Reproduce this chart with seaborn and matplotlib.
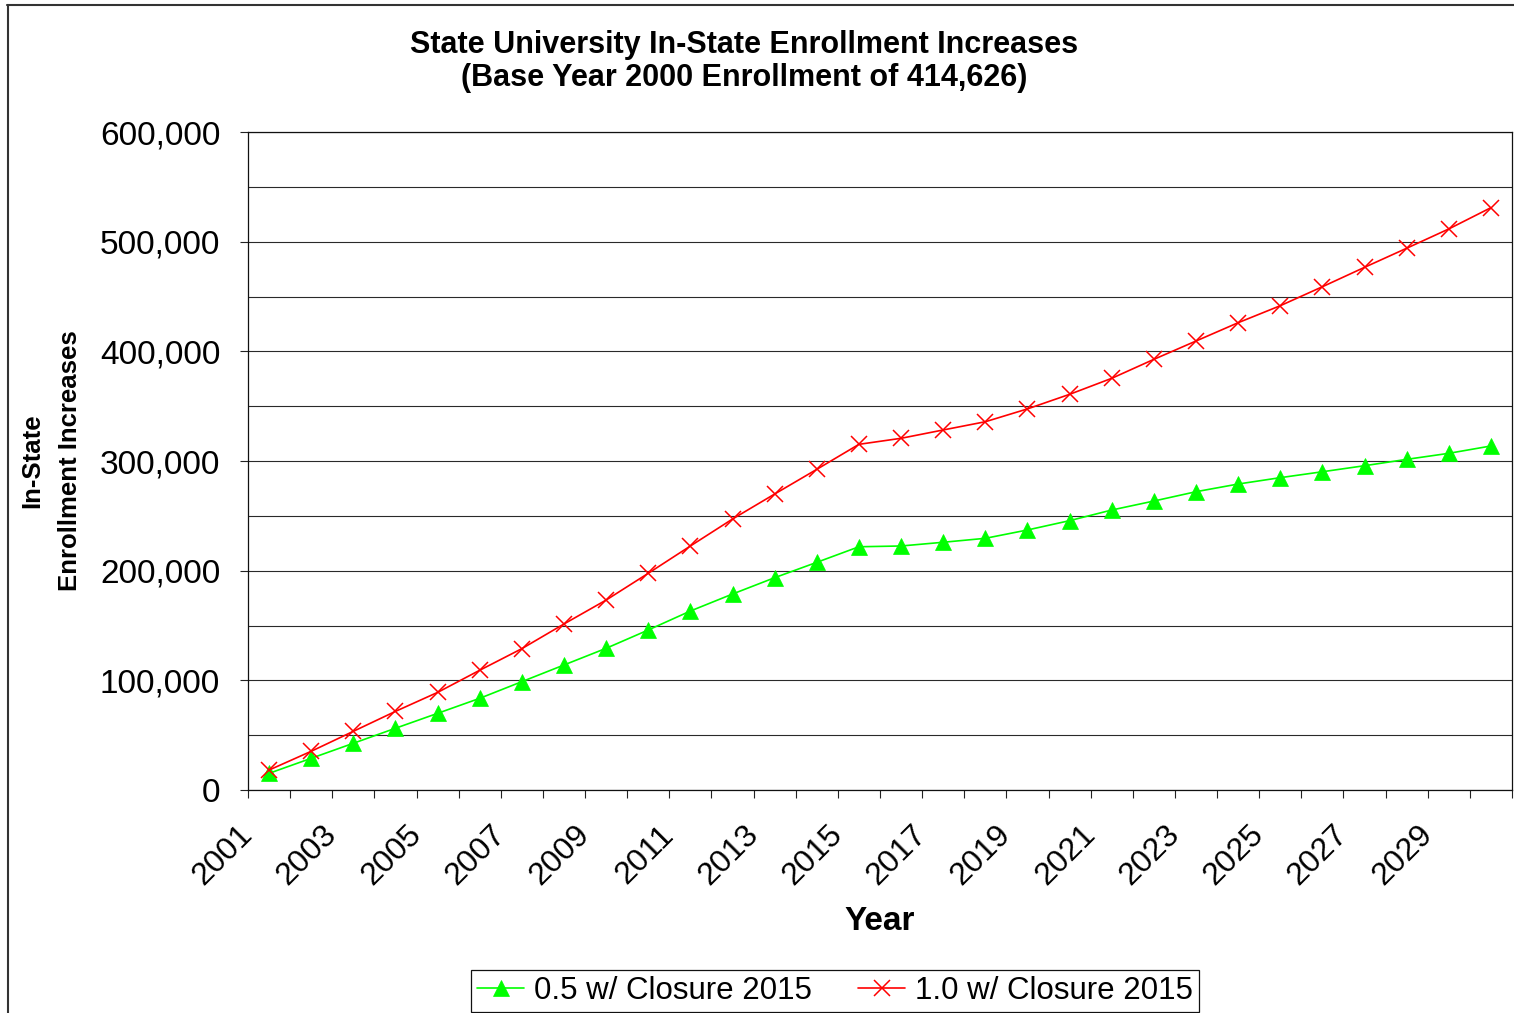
import matplotlib
matplotlib.use("Agg")
import matplotlib.pyplot as plt
from matplotlib.lines import Line2D
from matplotlib.transforms import ScaledTranslation
import numpy as np
import pandas as pd
import seaborn as sns

# ---- data -------------------------------------------------------------
years = [2001, 2002, 2003, 2004, 2005, 2006, 2007, 2008, 2009, 2010,
         2011, 2012, 2013, 2014, 2015, 2016, 2017, 2018, 2019, 2020,
         2021, 2022, 2023, 2024, 2025, 2026, 2027, 2028, 2029, 2030]

half_closure = [15200, 28900, 42600, 56300, 69900, 83600, 98800, 114000, 129200, 145900,
                163200, 178700, 193600, 207600, 221800, 222500, 225900, 229500, 237100, 245600,
                255300, 263500, 272000, 279000, 284800, 290200, 295700, 301500, 307000, 313700]

full_closure = [18200, 35300, 53500, 71700, 89000, 109200, 128900, 151400, 173200, 197600,
                222500, 247100, 269900, 292400, 315200, 320700, 328300, 335800, 347500, 360800,
                375400, 392700, 409400, 426100, 441600, 458900, 476600, 494000, 511600, 531000]

series_names = ["0.5 w/ Closure 2015", "1.0 w/ Closure 2015"]
series_values = [half_closure, full_closure]
series_colors = ["#00FF00", "#FF0000"]
series_markers = ["^", "x"]

title_lines = ["State University In-State Enrollment Increases",
               "(Base Year 2000 Enrollment of 414,626)"]
ylabel_lines = ["In-State", "Enrollment Increases"]
xlabel = "Year"
labeled_years = [2001, 2003, 2005, 2007, 2009, 2011, 2013, 2015,
                 2017, 2019, 2021, 2023, 2025, 2027, 2029]

# ---- style ------------------------------------------------------------
sns.set_style("white")
plt.rcParams["font.family"] = ["Liberation Sans", "DejaVu Sans"]
plt.rcParams.update({"text.color": "black", "axes.labelcolor": "black",
                     "xtick.color": "black", "ytick.color": "black"})

W, H, DPI = 1514, 1013, 100
fig = plt.figure(figsize=(W / DPI, H / DPI), dpi=DPI)
ax = fig.add_axes([248 / W, 1 - 790 / H, (1512 - 248) / W, (790 - 132) / H])

# one lineplot per scenario (filled triangles and line-art crosses)
handles = []
for name, vals, color, marker in zip(series_names, series_values, series_colors, series_markers):
    frame = pd.DataFrame({"Year": years, "Enrollment": vals})
    mew = 0.5 if marker == "^" else 1.1
    sns.lineplot(data=frame, x="Year", y="Enrollment", ax=ax, color=color,
                 marker=marker, markersize=11, markerfacecolor=color,
                 markeredgecolor=color, markeredgewidth=mew, linewidth=1.2,
                 legend=False)
    handles.append(Line2D([], [], color=color, marker=marker, markersize=11,
                          markerfacecolor=color, markeredgecolor=color,
                          markeredgewidth=mew, linewidth=1.2))

# ---- axes -------------------------------------------------------------
ax.set_xlim(years[0] - 0.5, years[-1] + 0.5)
ax.set_ylim(0, 600000)

ax.set_yticks(np.arange(0, 600001, 100000))
ax.set_yticks(np.arange(50000, 600000, 100000), minor=True)
ax.yaxis.set_major_formatter(matplotlib.ticker.FuncFormatter(lambda v, p: f"{int(v):,}"))
ax.grid(True, axis="y", which="both", color="#2a2a2a", linewidth=0.8)
ax.grid(False, axis="x")
ax.tick_params(axis="y", which="major", direction="out", length=6, width=0.8,
               color="#222222", labelcolor="black", labelsize=24, pad=14, left=True)
ax.tick_params(axis="y", which="minor", length=0)

# category boundaries carry the tick marks, category centres carry the labels
ax.set_xticks(np.arange(years[0] - 0.5, years[-1] + 1, 1.0))
ax.set_xticklabels([])
ax.set_xticks(labeled_years, minor=True)
ax.set_xticklabels([str(y) for y in labeled_years], minor=True)
ax.tick_params(axis="x", which="major", direction="out", length=6, width=0.8,
               color="#222222", bottom=True)
ax.tick_params(axis="x", which="minor", length=0, labelsize=23, pad=29,
               labelcolor="black")
offset = ScaledTranslation(-21 / DPI, 0, fig.dpi_scale_trans)
for lbl in ax.get_xticklabels(minor=True):
    lbl.set_rotation(45)
    lbl.set_ha("right")
    lbl.set_va("center")
    lbl.set_rotation_mode("anchor")
    lbl.set_transform(lbl.get_transform() + offset)

for side in ["left", "bottom", "right", "top"]:
    ax.spines[side].set_visible(True)
    ax.spines[side].set_color("#111111")
    ax.spines[side].set_linewidth(0.9)

ax.set_xlabel(xlabel, fontsize=24, fontweight="bold", color="black")
ax.xaxis.set_label_coords(0.5, (790 - 922) / (790 - 132))
ax.xaxis.label.set_va("center")
ax.set_ylabel("")

# ---- titles -----------------------------------------------------------
fig.text(744 / W, 1 - 45 / H, title_lines[0], ha="center", va="center",
         fontsize=22, fontweight="bold", color="black")
fig.text(744 / W, 1 - 78 / H, title_lines[1], ha="center", va="center",
         fontsize=22, fontweight="bold", color="black")
fig.text(32 / W, 1 - 461 / H, ylabel_lines[0], rotation=90, ha="center", va="center",
         fontsize=18.5, fontweight="bold", color="black")
fig.text(70 / W, 1 - 461 / H, ylabel_lines[1], rotation=90, ha="center", va="center",
         fontsize=18.5, fontweight="bold", color="black")

# ---- legend -----------------------------------------------------------
leg = fig.legend(handles, series_names, loc="center", ncol=2,
                 bbox_to_anchor=(835 / W, 1 - 991 / H), fontsize=22.5,
                 frameon=True, fancybox=False, edgecolor="#111111",
                 handlelength=1.5, handletextpad=0.3, columnspacing=1.5,
                 borderpad=0.2, framealpha=1)
leg.get_frame().set_linewidth(0.9)
for t in leg.get_texts():
    t.set_color("black")

# ---- outer chart border ----------------------------------------------
fig.add_artist(Line2D([7.5 / W, 7.5 / W], [0, 1 - 5.5 / H], transform=fig.transFigure,
                      color="#333333", linewidth=1.5))
fig.add_artist(Line2D([7 / W, 1], [1 - 5.5 / H, 1 - 5.5 / H], transform=fig.transFigure,
                      color="#333333", linewidth=1.5))

fig.savefig("out.png", dpi=DPI, facecolor="white")
